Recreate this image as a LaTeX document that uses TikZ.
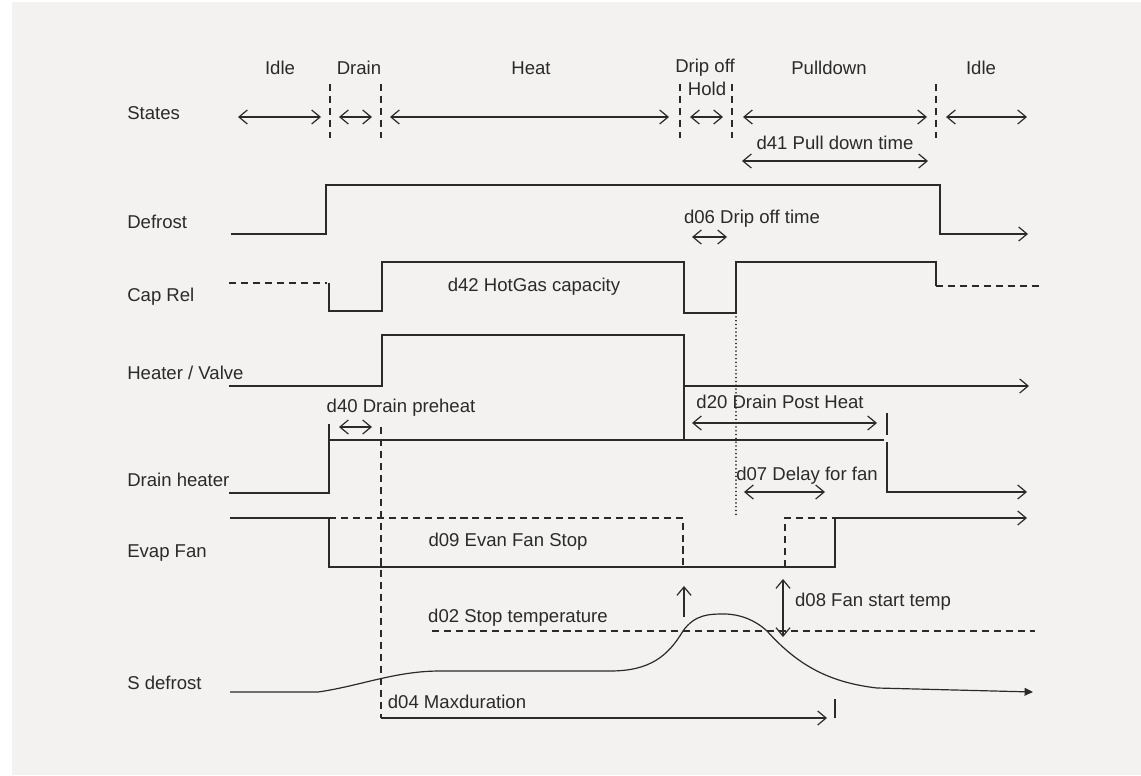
\documentclass[tikz,border=0pt]{standalone}
\usepackage{fontspec}
\setmainfont{Liberation Sans}
\usepackage{tikz}
\usetikzlibrary{arrows.meta}
\definecolor{panel}{HTML}{F3F2F1}
\definecolor{ink}{HTML}{2A2A2A}
\tikzset{
  txt/.style={text=ink, inner sep=0pt, font=\fontsize{13.2}{15}\selectfont},
  row/.style={txt, anchor=west},
  sig/.style={draw=ink, line width=0.85pt},
  sep/.style={draw=ink, line width=0.85pt, dash pattern=on 5pt off 3.5pt},
  dur/.style={draw=ink, line width=0.85pt, {Straight Barb[length=6pt,width=10pt]}-{Straight Barb[length=6pt,width=10pt]}},
  fwd/.style={draw=ink, line width=0.85pt, -{Straight Barb[length=6pt,width=10pt]}},
}

\begin{document}
\begin{tikzpicture}[x=0.025cm, y=-0.025cm]
                \useasboundingbox (0,0) rectangle (1141,775);
                \fill[panel] (12,2) rectangle (1141,775);

                % Nodes
                \node[row] (states) at (127,113) {States};
                \node[row] (defrost) at (127,222) {Defrost};
                \node[row] (caprel) at (127,297) {Cap Rel};
                \node[row] (heater) at (127,373) {Heater / Valve};
                \node[row] (drainh) at (127,480) {Drain heater};
                \node[row] (evap) at (127,553) {Evap Fan};
                \node[row] (sdef) at (127,683) {S defrost};

                \node[txt] (idle1) at (280,68) {Idle};
                \node[txt] (drain) at (359,68) {Drain};
                \node[txt] (heat) at (531,68) {Heat};
                \node[txt] (dripoff) at (705,68) {Drip off};
                \node[txt] (hold) at (707,89) {Hold};
                \node[txt] (pull) at (829,68) {Pulldown};
                \node[txt] (idle2) at (981,68) {Idle};

                \node[txt] (d41) at (835,143) {d41 Pull down time};
                \node[txt] (d06) at (752,219) {d06 Drip off time};
                \node[txt] (d42) at (534,287) {d42 HotGas capacity};
                \node[txt] (d40) at (401,408) {d40 Drain preheat};
                \node[txt] (d20) at (780,402) {d20 Drain Post Heat};
                \node[txt] (d07) at (807,476) {d07 Delay for fan};
                \node[txt] (d09) at (508,542) {d09 Evan Fan Stop};
                \node[txt] (d02) at (518,618) {d02 Stop temperature};
                \node[txt] (d08) at (873,602) {d08 Fan start temp};
                \node[txt] (d04) at (457,702) {d04 Maxduration};

                % State borders
                \foreach \x in {330,381,680,732,936}
                  \draw[sep] (\x,84) -- (\x,138);

                % State arrows
                \foreach \n/\a/\b in {idle1/238/321, drain/339/372, heat/390/669, hold/690/723, pull/743/927, idle2/946/1027}{
                  \coordinate (\n-l) at (\a,117);
                  \coordinate (\n-r) at (\b,117);
                  \draw[dur] (\n-l) -- (\n-r);
                }

                % Signals
                \draw[fwd] (231,234) -- (326,234) -- (326,185) -- (940,185) -- (940,234) -- (1028,234);

                \draw[sep] (229,283) -- (327,283);
                \draw[sig] (329,283) -- (329,311) -- (382,311) -- (382,262) -- (684,262) -- (684,313)
                  -- (736,313) -- (736,262) -- (936,262) -- (936,286);
                \draw[sep] (936,286) -- (1040,286);

                \draw[fwd] (229,386) -- (382,386) -- (382,335) -- (684,335) -- (684,386) -- (1029,386);
                \draw[sig] (684,386) -- (684,440);

                \draw[sig] (229,493) -- (329,493) -- (329,424);
                \draw[sig] (329,440) -- (884,440);
                \draw[sig] (887,413) -- (887,435);
                \draw[fwd] (887,442) -- (887,492) -- (1027,492);

                \draw[sig] (230,518) -- (329,518) -- (329,567) -- (835,567) -- (835,518);
                \draw[fwd] (835,518) -- (1027,518);
                \draw[sep] (329,518) -- (683,518) -- (683,567);
                \draw[sep] (785,567) -- (785,518) -- (835,518);

                \draw[sep] (432,631) -- (1035,631);
                \draw[sig, -{Triangle[length=6pt,width=5.5pt]}] (230,692) -- (318,692)
                  .. controls (360,686) and (395,671) .. (440,671) -- (610,671)
                  .. controls (650,671) and (668,656) .. (683,631)
                  .. controls (695,614) and (710,614) .. (724,614)
                  .. controls (740,614) and (755,620) .. (767,631)
                  .. controls (795,662) and (825,682) .. (877,688) -- (1033,692);

                % Timers
                \draw[sig, line cap=round, dash pattern=on 0.1pt off 2.6pt, line width=1.1pt] (736,313) -- (736,518);
                \draw[sep] (381,427) -- (381,718);

                \coordinate (d41-l) at (742,161);
                \coordinate (d41-r) at (928,161);
                \coordinate (d06-l) at (692,237);
                \coordinate (d06-r) at (727,237);
                \coordinate (d40-l) at (339,427);
                \coordinate (d40-r) at (372,427);
                \coordinate (d20-l) at (692,423);
                \coordinate (d20-r) at (877,423);
                \coordinate (d07-l) at (744,492);
                \coordinate (d07-r) at (825,492);
                \coordinate (d08-t) at (783,579);
                \coordinate (d08-b) at (783,637);
                \coordinate (d02-b) at (684,617);
                \coordinate (d02-t) at (684,586);
                \coordinate (d04-l) at (381,718);
                \coordinate (d04-r) at (827,718);

                % Edges
                \draw[dur] (d41-l) -- (d41-r);
                \draw[dur] (d06-l) -- (d06-r);
                \draw[dur] (d40-l) -- (d40-r);
                \draw[dur] (d20-l) -- (d20-r);
                \draw[dur] (d07-l) -- (d07-r);
                \draw[dur] (d08-t) -- (d08-b);
                \draw[fwd] (d02-b) -- (d02-t);
                \draw[fwd] (d04-l) -- (d04-r);
                \draw[sig] (835,699) -- (835,718);
            \end{tikzpicture}
\end{document}
